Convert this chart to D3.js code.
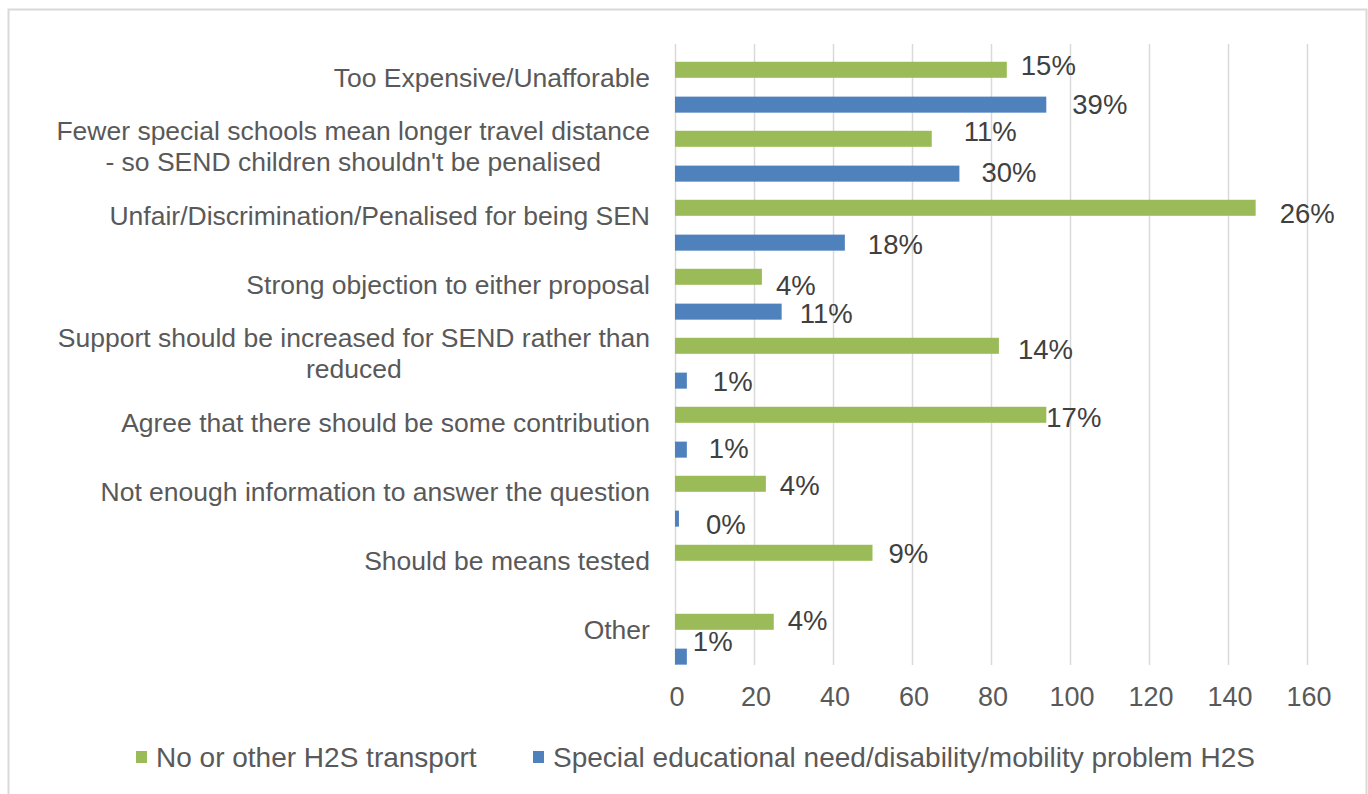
<!DOCTYPE html>
<html>
<head>
<meta charset="utf-8">
<script src="https://cdn.jsdelivr.net/npm/d3@7"></script>
<style>
  html, body { margin: 0; padding: 0; background: #fff; }
  svg text { font-family: "Liberation Sans", Arial, sans-serif; }
</style>
</head>
<body>
<div id="chart"></div>
<script>
// categories, top to bottom (each entry = lines of the wrapped label)
const categories = [
    ["Too Expensive/Unafforable"],
    ["Fewer special schools mean longer travel distance", "- so SEND children shouldn't be penalised"],
    ["Unfair/Discrimination/Penalised for being SEN"],
    ["Strong objection to either proposal"],
    ["Support should be increased for SEND rather than", "reduced"],
    ["Agree that there should be some contribution"],
    ["Not enough information to answer the question"],
    ["Should be means tested"],
    ["Other"]
];
const seriesNames = ["No or other H2S transport", "Special educational need/disability/mobility problem H2S"];
const greenValues = [84, 65, 147, 22, 82, 94, 23, 50, 25];
const blueValues = [94, 72, 43, 27, 3, 3, 1, 0, 3];
const greenLabels = ["15%", "11%", "26%", "4%", "14%", "17%", "4%", "9%", "4%"];
const blueLabels = ["39%", "30%", "18%", "11%", "1%", "1%", "0%", null, "1%"];
const xTicks = [0, 20, 40, 60, 80, 100, 120, 140, 160];

// hand-moved data labels in the original: [dx, dy] nudges
const greenNudge = [[0, -4], [18, -7], [10, 6], [0, 9], [5, 4], [-14, 3], [0, 2], [2, 1], [0, -1]];
const blueNudge = [[12, 0], [8, -1], [9, 2], [4, 2], [12, 1], [8, -1], [13, 6], [0, 0], [-8, -15]];

const W = 1368, H = 794;
const plotLeft = 675, plotRight = 1307, plotTop = 44, plotBottom = 665;
const textColor = "#595959";
const labelColor = "#404040";
const green = "#9bbb59", blue = "#4f81bd";

const svg = d3.select("#chart").append("svg")
    .attr("width", W)
    .attr("height", H);

// outer chart border
svg.append("rect")
    .attr("x", 8.5).attr("y", 9.5)
    .attr("width", 1358).attr("height", 820)
    .attr("fill", "#fff")
    .attr("stroke", "#d9d9d9")
    .attr("stroke-width", 2);

const x = d3.scaleLinear().domain([0, 160]).range([plotLeft, plotRight]);
const y = d3.scaleBand().domain(d3.range(categories.length)).range([plotTop, plotBottom]).padding(0);
// 4 slots per category; Excel layout leaves empty slots above each series
const inner = d3.scaleBand().domain(["a", "green", "b", "blue"]).range([0, y.bandwidth()]).paddingInner(0.08).paddingOuter(0.02);

// gridlines
svg.append("g")
    .selectAll("line")
    .data(xTicks)
    .join("line")
    .attr("x1", d => x(d) + 0.5)
    .attr("x2", d => x(d) + 0.5)
    .attr("y1", plotTop)
    .attr("y2", plotBottom)
    .attr("stroke", "#d9d9d9")
    .attr("stroke-width", 1.5);

// tick labels
svg.append("g")
    .selectAll("text")
    .data(xTicks)
    .join("text")
    .attr("x", d => x(d) + 2)
    .attr("y", 697)
    .attr("dy", "0.35em")
    .attr("text-anchor", "middle")
    .attr("font-size", 27)
    .attr("fill", textColor)
    .text(d => d);

// category labels
const cat = svg.append("g")
    .selectAll("text")
    .data(categories)
    .join("text")
    .attr("text-anchor", "middle")
    .attr("font-size", 26.5)
    .attr("fill", textColor);

cat.each(function (lines, i) {
    const t = d3.select(this);
    const cy = y(i) + y.bandwidth() / 2 - 1;
    const lh = 31;
    const y0 = cy - (lines.length - 1) * lh / 2;
    lines.forEach((ln, j) => {
        t.append("tspan")
            .attr("x", 0)
            .attr("y", y0 + j * lh)
            .attr("dy", "0.35em")
            .text(ln);
    });
});
// right-align the block but centre the lines within it (Excel style)
cat.each(function () {
    const w = this.getBBox().width;
    d3.select(this).attr("transform", `translate(${650 - w / 2},0)`);
});

// bars
function drawSeries(values, key, color) {
    svg.append("g")
        .selectAll("rect")
        .data(values)
        .join("rect")
        .attr("x", x(0))
        .attr("y", (d, i) => y(i) + inner(key))
        .attr("width", d => x(d) - x(0))
        .attr("height", inner.bandwidth())
        .attr("fill", color);
}
drawSeries(greenValues, "green", green);
drawSeries(blueValues, "blue", blue);

// data labels
function drawLabels(values, labels, key, nudge) {
    const rows = values.map((v, i) => ({ v, i, label: labels[i] })).filter(d => d.label !== null);
    svg.append("g")
        .selectAll("text")
        .data(rows)
        .join("text")
        .attr("x", d => x(d.v) + 14 + nudge[d.i][0])
        .attr("y", d => y(d.i) + inner(key) + inner.bandwidth() / 2 + nudge[d.i][1])
        .attr("dy", "0.35em")
        .attr("font-size", 27.5)
        .attr("fill", labelColor)
        .text(d => d.label);
}
drawLabels(greenValues, greenLabels, "green", greenNudge);
drawLabels(blueValues, blueLabels, "blue", blueNudge);

// legend
const legendPos = [136, 533];
const legend = svg.append("g")
    .selectAll("g")
    .data(seriesNames)
    .join("g")
    .attr("transform", (d, i) => `translate(${legendPos[i]},757)`);
legend.append("rect")
    .attr("x", 0).attr("y", -6)
    .attr("width", 11).attr("height", 12)
    .attr("fill", (d, i) => i === 0 ? green : blue);
legend.append("text")
    .attr("x", 20)
    .attr("dy", "0.35em")
    .attr("font-size", 28)
    .attr("fill", textColor)
    .text(d => d);
</script>
</body>
</html>
